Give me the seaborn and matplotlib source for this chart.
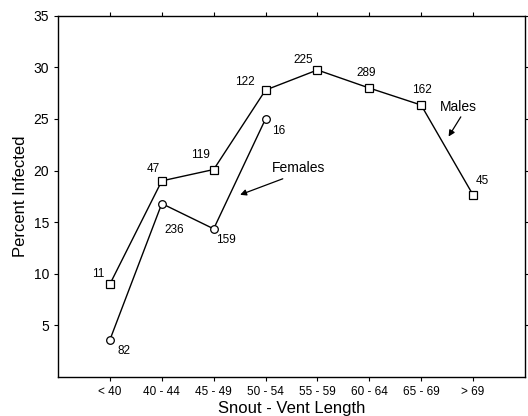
import numpy as np
import pandas as pd
import matplotlib
matplotlib.use('Agg')
import matplotlib.pyplot as plt
import seaborn as sns

categories = ['< 40', '40 - 44', '45 - 49', '50 - 54', '55 - 59', '60 - 64', '65 - 69', '> 69']
males_pct = [9.0, 19.0, 20.1, 27.8, 29.75, 28.0, 26.35, 17.65]
males_n = [11, 47, 119, 122, 225, 289, 162, 45]
females_pct = [3.6, 16.8, 14.35, 25.0]
females_n = [82, 236, 159, 16]

sns.set_style('ticks')
plt.rcParams['font.family'] = ['Liberation Sans', 'DejaVu Sans']
for k in ['text.color', 'axes.labelcolor', 'xtick.color', 'ytick.color', 'axes.edgecolor']:
    plt.rcParams[k] = 'black'

df = pd.concat([
    pd.DataFrame({'size': categories, 'pct': males_pct, 'n': males_n, 'sex': 'Males'}),
    pd.DataFrame({'size': categories[:len(females_pct)], 'pct': females_pct, 'n': females_n, 'sex': 'Females'}),
], ignore_index=True)
df['pos'] = df['size'].map({c: i for i, c in enumerate(categories)})

fig = plt.figure(figsize=(5.28, 4.16), dpi=100)
ax = fig.add_axes([0.110, 0.094, 0.884, 0.868])

sns.lineplot(data=df, x='pos', y='pct', hue='sex', style='sex',
             markers={'Males': 's', 'Females': 'o'}, dashes=False,
             palette={'Males': 'black', 'Females': 'black'},
             markerfacecolor='white', markeredgecolor='black', markersize=5.5,
             markeredgewidth=0.9, linewidth=1.0, legend=False, ax=ax)

# count labels, offsets in pixels (converted to points below)
m_off = [(-12, 10), (-8, 12), (-13, 15), (-21, 8), (-14, 10), (-3, 15), (1, 15), (9, 14)]
f_off = [(14, -11), (12, -26), (12, -11), (13, -12)]
px = 72 / 100
for sex, offs in [('Males', m_off), ('Females', f_off)]:
    for (i, row), off in zip(df[df.sex == sex].iterrows(), offs):
        ax.annotate(str(row['n']), (row['pos'], row['pct']),
                    xytext=(off[0] * px, off[1] * px),
                    textcoords='offset points', ha='center', va='center',
                    fontsize=8.5)

ax.annotate('Females', xy=(2.51, 17.65), xytext=(3.12, 20.2), fontsize=10,
            ha='left', va='center',
            arrowprops=dict(arrowstyle='-|>', color='black', lw=0.9,
                            shrinkA=0, shrinkB=0, mutation_scale=9,
                            relpos=(0.3, -0.1)))
ax.annotate('Males', xy=(6.53, 23.3), xytext=(6.36, 26.2), fontsize=10,
            ha='left', va='center',
            arrowprops=dict(arrowstyle='-|>', color='black', lw=0.9,
                            shrinkA=0, shrinkB=0, mutation_scale=9,
                            relpos=(0.6, -0.1)))

ax.set_xlim(-1, 8)
ax.set_ylim(0, 35)
ax.set_xticks(range(len(categories)))
ax.set_xticklabels(categories, fontsize=8.5)
ax.set_yticks([5, 10, 15, 20, 25, 30, 35])
ax.tick_params(axis='y', labelsize=10)
ax.tick_params(top=True, right=True, direction='out', length=3, width=0.8)
ax.set_xlabel('Snout - Vent Length', fontsize=12, labelpad=2)
ax.set_ylabel('Percent Infected', fontsize=12, labelpad=4)
for s in ax.spines.values():
    s.set_linewidth(1.0)

fig.savefig('out.png', dpi=100)
